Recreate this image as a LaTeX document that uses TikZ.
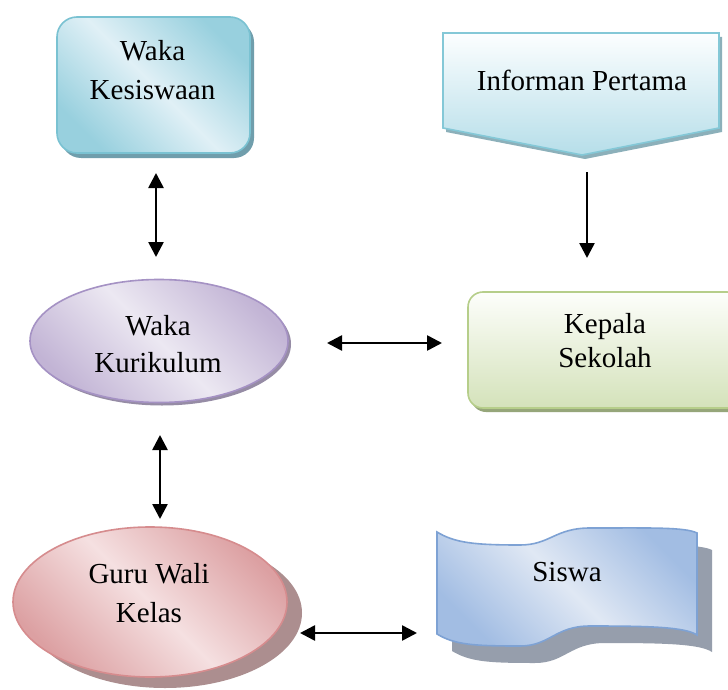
\documentclass[tikz,border=0pt]{standalone}
\usepackage{fontspec}
\setmainfont{Liberation Serif}
\usetikzlibrary{arrows.meta,shapes.geometric,shadows}
\definecolor{kesB}{RGB}{122,194,210}
\definecolor{kesD}{RGB}{152,208,222}
\definecolor{kesL}{RGB}{224,240,246}
\definecolor{kesS}{RGB}{112,158,172}
\definecolor{infB}{RGB}{132,200,215}
\definecolor{infT}{RGB}{252,254,255}
\definecolor{infD}{RGB}{182,222,233}
\definecolor{infS}{RGB}{140,176,186}
\definecolor{kurB}{RGB}{165,146,196}
\definecolor{kurD}{RGB}{194,180,213}
\definecolor{kurL}{RGB}{236,232,242}
\definecolor{kurS}{RGB}{150,140,165}
\definecolor{kepB}{RGB}{182,206,138}
\definecolor{kepT}{RGB}{253,254,251}
\definecolor{kepD}{RGB}{212,226,186}
\definecolor{kepS}{RGB}{150,166,122}
\definecolor{guruB}{RGB}{214,140,142}
\definecolor{guruD}{RGB}{220,160,162}
\definecolor{guruL}{RGB}{245,224,225}
\definecolor{guruS}{RGB}{172,142,143}
\definecolor{sisB}{RGB}{126,162,212}
\definecolor{sisD}{RGB}{162,189,227}
\definecolor{sisL}{RGB}{224,232,244}
\definecolor{sisS}{RGB}{150,158,172}
\tikzset{
  lbl/.style={font=\fontsize{29}{39}\selectfont, align=center, inner sep=0pt, anchor=north, text=black},
  shapeline/.style={line width=1.6pt},
  biarrow/.style={line width=2.6pt, {Triangle[length=15pt,width=15pt]}-{Triangle[length=15pt,width=15pt]}},
  onearrow/.style={line width=2.6pt, -{Triangle[length=15pt,width=15pt]}}
}
\begin{document}
\begin{tikzpicture}[x=1pt,y=-1pt]
\clip (0,0) rectangle (728,690);
\fill[white] (0,0) rectangle (728,690);

% Waka Kesiswaan
\node[shapeline, draw=kesB, rounded corners=20pt, minimum width=193pt, minimum height=136pt, inner sep=0pt,
      top color=kesD, bottom color=kesD, middle color=kesL, shading angle=-45,
      general shadow={fill=kesS, shadow xshift=4pt, shadow yshift=-5pt}] (kes) at (153.5,85) {};
\node[lbl] (tkes) at (152.5,40) {Waka\\Kesiswaan};

% Informan Pertama
\path[shapeline, draw=infB, top color=infT, bottom color=infD,
      general shadow={fill=infS, shadow xshift=3pt, shadow yshift=-4pt}]
  (443,33) -- (719,33) -- (719,128) -- (582,155) -- (443,128) -- cycle;
\node[lbl] (tinf) at (582,70) {Informan Pertama};

% Waka Kurikulum
\node[ellipse, shapeline, draw=kurB, minimum width=258pt, minimum height=123pt, inner sep=0pt,
      top color=kurD, bottom color=kurD, middle color=kurL, shading angle=-45,
      general shadow={fill=kurS, shadow xshift=3pt, shadow yshift=-3pt}] (kur) at (159,341) {};
\node[lbl, font=\fontsize{29}{37}\selectfont] (tkur) at (158,315) {Waka\\Kurikulum};

% Kepala Sekolah
\node[shapeline, draw=kepB, rounded corners=15pt, minimum width=274pt, minimum height=116pt, inner sep=0pt,
      top color=kepT, bottom color=kepD,
      general shadow={fill=kepS, shadow xshift=3pt, shadow yshift=-4pt}] (kep) at (605,350) {};
\node[lbl, font=\fontsize{29}{34}\selectfont] (tkep) at (605,313) {Kepala\\Sekolah};

% Guru Wali Kelas
\node[ellipse, shapeline, draw=guruB, minimum width=274pt, minimum height=150pt, inner sep=0pt,
      top color=guruD, bottom color=guruD, middle color=guruL, shading angle=-45,
      general shadow={fill=guruS, shadow xshift=15pt, shadow yshift=-11pt}] (guru) at (150,602) {};
\node[lbl] (tguru) at (149,563) {Guru Wali\\Kelas};

% Siswa
\path[shapeline, draw=sisB, top color=sisD, bottom color=sisD, middle color=sisL, shading angle=-45,
      general shadow={fill=sisS, shadow xshift=15pt, shadow yshift=-17pt}]
  (437,532) .. controls (455,543) and (475,545) .. (520,545)
            .. controls (550,545) and (555,528) .. (590,528)
            .. controls (650,528) and (685,527) .. (697,533)
  -- (697,635)
            .. controls (685,627) and (650,626) .. (590,626)
            .. controls (555,626) and (550,646) .. (520,646)
            .. controls (475,646) and (455,645) .. (437,634)
  -- cycle;
\node[lbl] (tsis) at (567,562) {Siswa};

% connectors
\coordinate (a1t) at (156,173); \coordinate (a1b) at (156,257);
\coordinate (a2t) at (587,172); \coordinate (a2b) at (587,258);
\coordinate (a3l) at (327,343); \coordinate (a3r) at (442,343);
\coordinate (a4t) at (160,435); \coordinate (a4b) at (160,519);
\coordinate (a5l) at (300,633); \coordinate (a5r) at (417,633);
\draw[biarrow] (a1t) -- (a1b);
\draw[onearrow] (a2t) -- (a2b);
\draw[biarrow] (a3l) -- (a3r);
\draw[biarrow] (a4t) -- (a4b);
\draw[biarrow] (a5l) -- (a5r);
\end{tikzpicture}
\end{document}
